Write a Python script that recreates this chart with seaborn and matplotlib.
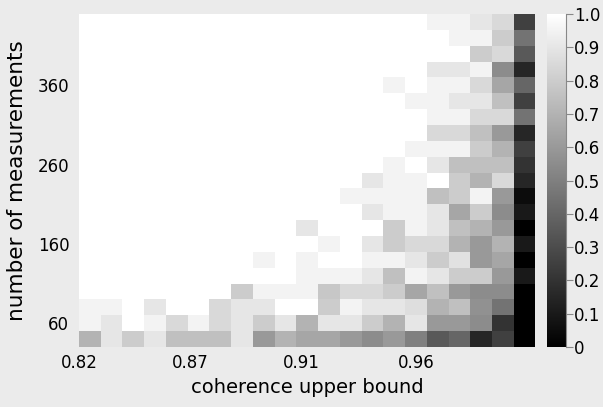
import numpy as np
import pandas as pd
import seaborn as sns
import matplotlib
matplotlib.use('Agg')
import matplotlib.pyplot as plt

plt.rcParams['font.family'] = ['DejaVu Sans']

# number of measurements, top row first
measurements = [440, 420, 400, 380, 360, 340, 320, 300, 280, 260, 240,
                220, 200, 180, 160, 140, 120, 100, 80, 60, 40]

# tick labels of the coherence axis and where they sit (in cell units)
coherence_labels = ['0.82', '0.87', '0.91', '0.96']
coherence_pos = [0.0, 5.1, 10.25, 15.5]
measure_ticks = [60, 160, 260, 360]

# success rate, one row per number of measurements (21 coherence bins)
success = [
    [1, 1, 1, 1, 1, 1, 1, 1, 1, 1, 1, 1, 1, 1, 1, 1, .95, .95, .9, .85, .25],
    [1, 1, 1, 1, 1, 1, 1, 1, 1, 1, 1, 1, 1, 1, 1, 1, 1, .95, .95, .8, .45],
    [1, 1, 1, 1, 1, 1, 1, 1, 1, 1, 1, 1, 1, 1, 1, 1, 1, 1, .8, .85, .35],
    [1, 1, 1, 1, 1, 1, 1, 1, 1, 1, 1, 1, 1, 1, 1, 1, .9, .9, .95, .55, .15],
    [1, 1, 1, 1, 1, 1, 1, 1, 1, 1, 1, 1, 1, 1, .95, 1, .95, .95, .85, .65, .4],
    [1, 1, 1, 1, 1, 1, 1, 1, 1, 1, 1, 1, 1, 1, 1, .95, .95, .9, .9, .75, .25],
    [1, 1, 1, 1, 1, 1, 1, 1, 1, 1, 1, 1, 1, 1, 1, 1, .95, .95, .85, .85, .45],
    [1, 1, 1, 1, 1, 1, 1, 1, 1, 1, 1, 1, 1, 1, 1, 1, .85, .85, .75, .6, .15],
    [1, 1, 1, 1, 1, 1, 1, 1, 1, 1, 1, 1, 1, 1, 1, .95, .95, .95, .8, .7, .25],
    [1, 1, 1, 1, 1, 1, 1, 1, 1, 1, 1, 1, 1, 1, .95, 1, .9, .75, .75, .75, .2],
    [1, 1, 1, 1, 1, 1, 1, 1, 1, 1, 1, 1, 1, .9, .95, .95, 1, .8, .7, .85, .15],
    [1, 1, 1, 1, 1, 1, 1, 1, 1, 1, 1, 1, .95, .95, .95, .95, .75, .8, .95, .6, .05],
    [1, 1, 1, 1, 1, 1, 1, 1, 1, 1, 1, 1, 1, .9, .95, .95, .9, .65, .8, .55, .1],
    [1, 1, 1, 1, 1, 1, 1, 1, 1, 1, .9, 1, 1, 1, .8, .95, .9, .75, .7, .6, 0],
    [1, 1, 1, 1, 1, 1, 1, 1, 1, 1, 1, .95, 1, .9, .8, .85, .85, .7, .6, .7, .1],
    [1, 1, 1, 1, 1, 1, 1, 1, .95, 1, .95, 1, 1, .95, .95, .9, .8, .88, .6, .65, 0],
    [1, 1, 1, 1, 1, 1, 1, 1, 1, 1, .95, .95, .95, .9, .75, .95, .9, .8, .8, .6, .1],
    [1, 1, 1, 1, 1, 1, 1, .8, .95, .95, .95, .78, .85, .85, .8, .65, .75, .6, .55, .55, 0],
    [.95, .95, 1, .9, 1, 1, .85, .9, .9, 1, 1, .8, .95, .9, .9, .87, .7, .75, .57, .45, 0],
    [.95, .9, 1, .95, .85, .95, .85, .9, .8, .9, .7, .9, .9, .8, .7, .9, .6, .6, .55, .2, 0],
    [.7, .9, .8, .9, .75, .75, .75, .9, .6, .7, .65, .65, .6, .55, .6, .5, .35, .4, .15, .25, 0],
]

cbar_ticks = [0, .1, .2, .3, .4, .5, .6, .7, .8, .9, 1.0]
cbar_labels = ['0', '0.1', '0.2', '0.3', '0.4', '0.5', '0.6', '0.7', '0.8', '0.9', '1.0']

df = pd.DataFrame(success, index=measurements)

bg = '#ebebeb'
fig = plt.figure(figsize=(6.03, 4.07), dpi=100, facecolor=bg)
ax = fig.add_axes([0.131, 0.1474, 0.757, 0.8182])
cax = fig.add_axes([0.907, 0.1474, 0.0315, 0.8182])

sns.heatmap(df, ax=ax, cbar_ax=cax, cmap='gray', vmin=0, vmax=1,
            xticklabels=False, yticklabels=False)

ax.set_xticks(coherence_pos)
ax.set_xticklabels(coherence_labels)
ax.set_yticks([measurements.index(m) + 0.5 for m in measure_ticks])
ax.set_yticklabels([str(m) for m in measure_ticks], rotation=0)
ax.tick_params(axis='x', length=0, pad=5, labelsize=12)
ax.tick_params(axis='y', length=0, pad=7, labelsize=12)
ax.set_xlabel('coherence upper bound', fontsize=14, labelpad=4)
ax.set_ylabel('number of measurements', fontsize=15.5, labelpad=8)

cbar = ax.collections[0].colorbar
cbar.set_ticks(cbar_ticks)
cbar.set_ticklabels(cbar_labels)
cbar.outline.set_visible(False)
cax.spines['right'].set_visible(True)
cax.spines['right'].set_color('#888888')
cax.tick_params(length=5, color='#888888', labelsize=12, pad=1)

fig.savefig('out.png', dpi=100, facecolor=bg)
